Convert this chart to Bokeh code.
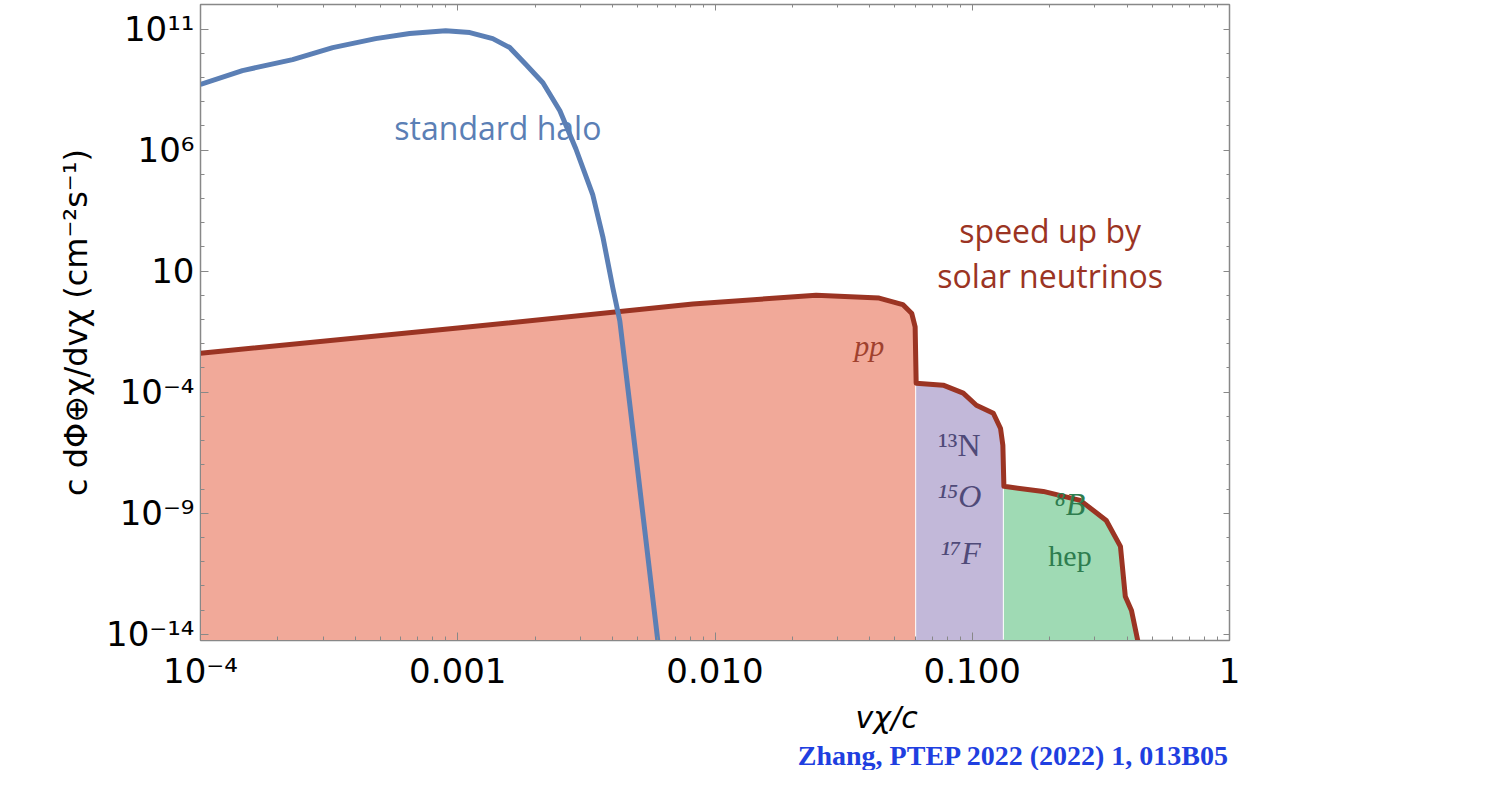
from bokeh.plotting import figure
from bokeh.models import FixedTicker, LogAxis, Title
from bokeh.core.properties import value
from bokeh.embed import file_html
from bokeh.resources import INLINE

# standard halo curve, log10 values
halo_logv = [-4.0, -3.837, -3.642, -3.486, -3.319, -3.187, -3.047, -2.953, -2.864, -2.798, -2.735,
             -2.669, -2.603, -2.541, -2.475, -2.436, -2.397, -2.370, -2.307, -2.222]
halo_logf = [8.72, 9.29, 9.74, 10.24, 10.61, 10.82, 10.94, 10.86, 10.61, 10.24, 9.54,
             8.79, 7.63, 6.06, 4.15, 2.42, 0.30, -1.06, -6.65, -14.3]

# solar-neutrino boosted flux (log10), split by source
pp_logv = [-4.0, -3.0, -2.086, -1.607, -1.362, -1.27, -1.235, -1.222]
pp_logf = [-2.39, -1.35, -0.36, 0.01, -0.11, -0.38, -0.75, -1.3]
cno_logv = [-1.218, -1.113, -1.035, -0.984, -0.918, -0.890, -0.881]
cno_logf = [-3.63, -3.71, -4.04, -4.54, -4.87, -5.5, -6.2]
b8_logv = [-0.877, -0.724, -0.580, -0.479, -0.424, -0.405, -0.381, -0.354]
b8_logf = [-7.89, -8.10, -8.47, -9.30, -10.37, -12.44, -13.02, -14.4]

x_ticks = [1e-4, 1e-3, 1e-2, 1e-1, 1]
x_labels = ["10⁻⁴", "0.001", "0.010", "0.100", "1"]
y_ticks = [1e-14, 1e-9, 1e-4, 10, 1e6, 1e11]
y_labels = ["10⁻¹⁴", "10⁻⁹", "10⁻⁴", "10", "10⁶", "10¹¹"]

RED = "#9b3423"
BLUE = "#5b7fb5"
GREY = "#888888"
BOTTOM = 10 ** -14.26

def p10(a):
    return [10 ** v for v in a]

x_minor = [m * 10 ** e for e in range(-4, 0) for m in range(2, 10)]
y_minor = [10 ** e for e in range(-14, 13)]

p = figure(width=1471, height=770, x_axis_type="log", y_axis_type="log",
           x_range=(1e-4, 1), y_range=(BOTTOM, 10 ** 12.02),
           output_backend="svg", toolbar_location=None,
           min_border_left=200, min_border_right=242, min_border_top=4, min_border_bottom=0)
p.grid.visible = False
p.outline_line_color = GREY
p.outline_line_width = 1.5

p.varea(x=p10(pp_logv), y1=BOTTOM, y2=p10(pp_logf), fill_color="#f1a999")
p.varea(x=p10(cno_logv), y1=BOTTOM, y2=p10(cno_logf), fill_color="#c2b8d9")
p.varea(x=p10(b8_logv), y1=BOTTOM, y2=p10(b8_logf), fill_color="#9fdab4")

red_v = pp_logv + cno_logv + b8_logv
red_f = pp_logf + cno_logf + b8_logf
p.line(p10(red_v), p10(red_f), line_color=RED, line_width=5, line_join="round")
p.line(p10(halo_logv), p10(halo_logf), line_color=BLUE, line_width=5, line_join="round")

for ax in (p.xaxis[0], p.yaxis[0]):
    ax.major_tick_in = 8
    ax.major_tick_out = 0
    ax.minor_tick_in = 4
    ax.minor_tick_out = 0
    ax.axis_line_color = GREY
    ax.major_tick_line_color = GREY
    ax.minor_tick_line_color = GREY
    ax.major_label_text_font = "DejaVu Sans"
    ax.major_label_text_font_size = "34px"
    ax.major_label_text_color = "black"

p.xaxis.ticker = FixedTicker(ticks=x_ticks, minor_ticks=x_minor)
p.xaxis.major_label_overrides = {t: l for t, l in zip(x_ticks, x_labels)}
p.xaxis.major_label_standoff = 10
# leading no-break spaces push the centred label to the right, as in the reference
p.xaxis.axis_label = "\u00a0" * 36 + "vχ/c"
p.xaxis.axis_label_text_font = "DejaVu Sans"
p.xaxis.axis_label_text_font_size = "30px"
p.xaxis.axis_label_text_color = "black"
p.xaxis.axis_label_standoff = 6
p.yaxis.ticker = FixedTicker(ticks=y_ticks, minor_ticks=y_minor)
p.yaxis.major_label_overrides = {t: l for t, l in zip(y_ticks, y_labels)}
p.yaxis.major_label_standoff = 6
p.yaxis.axis_label = "c dΦ⊕χ/dvχ (cm⁻²s⁻¹)"
p.yaxis.axis_label_text_font = "DejaVu Sans"
p.yaxis.axis_label_text_font_style = "normal"
p.yaxis.axis_label_text_font_size = "32px"
p.yaxis.axis_label_text_color = "black"
p.yaxis.axis_label_standoff = 8

top = LogAxis(ticker=FixedTicker(ticks=x_ticks, minor_ticks=x_minor),
              major_label_overrides={t: " " for t in x_ticks}, major_label_text_alpha=0,
              major_tick_in=6, major_tick_out=0, minor_tick_in=3, minor_tick_out=0,
              axis_line_color=GREY, major_tick_line_color=GREY, minor_tick_line_color=GREY)
right = LogAxis(ticker=FixedTicker(ticks=y_ticks, minor_ticks=y_minor),
                major_label_overrides={t: " " for t in y_ticks}, major_label_text_alpha=0,
                major_tick_in=6, major_tick_out=0, minor_tick_in=3, minor_tick_out=0,
                axis_line_color=GREY, major_tick_line_color=GREY, minor_tick_line_color=GREY)
p.add_layout(top, "above")
p.add_layout(right, "right")

# citation line under the axis label
p.add_layout(Title(text="Zhang, PTEP 2022 (2022) 1, 013B05", align="right", text_font="Liberation Serif",
                   text_font_style="bold", text_font_size="28px", text_color="#1f3fe0",
                   standoff=0), "below")

p.text(x=[10 ** -2.844], y=[10 ** 6.93], text=["standard halo"], text_color=BLUE,
       text_font=value("Open Sans"), text_font_size="32px", text_align="center", text_baseline="middle")
p.text(x=[10 ** -0.697] * 2, y=[10 ** 2.70, 10 ** 0.84], text=["speed up by", "solar neutrinos"], text_color=RED,
       text_font=value("Open Sans"), text_font_size="32px", text_align="center", text_baseline="middle")
p.text(x=[10 ** -1.40], y=[10 ** -2.05], text=["pp"], text_color="#a0412e", text_font=value("Liberation Serif"),
       text_font_style="italic", text_font_size="30px", text_align="center", text_baseline="middle")
p.text(x=[10 ** -1.05], y=[10 ** -6.2], text=["¹³N"], text_color="#4f4a78", text_font=value("Liberation Serif"),
       text_font_size="32px", text_align="center", text_baseline="middle")
p.text(x=[10 ** -1.05, 10 ** -1.045], y=[10 ** -8.3, 10 ** -10.65], text=["¹⁵O", "¹⁷F"], text_color="#4f4a78",
       text_font=value("Liberation Serif"), text_font_style="italic", text_font_size="32px",
       text_align="center", text_baseline="middle")
p.text(x=[10 ** -0.62], y=[10 ** -8.6], text=["⁸B"], text_color="#2e7d4f", text_font=value("Liberation Serif"),
       text_font_style="italic", text_font_size="32px", text_align="center", text_baseline="middle")
p.text(x=[10 ** -0.62], y=[10 ** -10.75], text=["hep"], text_color="#2e7d4f", text_font=value("Liberation Serif"),
       text_font_size="30px", text_align="center", text_baseline="middle")

open("out.html", "w").write(file_html(p, INLINE))
